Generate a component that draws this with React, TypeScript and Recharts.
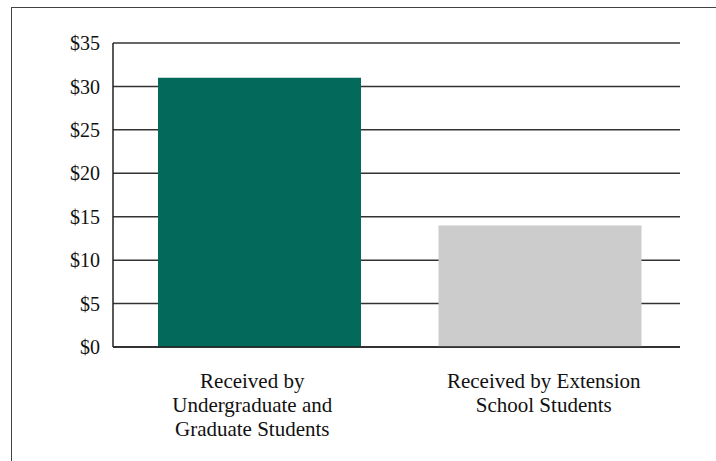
import { Bar, BarChart, CartesianGrid, Cell, XAxis, YAxis } from "recharts"

const categories = ["undergrad", "extension"]
const amounts = [31, 14]
const barColors = ["#02695b", "#cccccc"]
const categoryLabels = [
	["Received by", "Undergraduate and", "Graduate Students"],
	["Received by Extension", "School Students"],
]
const yTicks = [0, 5, 10, 15, 20, 25, 30, 35]

const chartData = categories.map((key, i) => ({
	key,
	amount: amounts[i],
	color: barColors[i],
}))

const FONT = "Liberation Serif"
const labelNudge = [-7, 4]

const CategoryTick = ({ x, y, index }: any) => {
	const lines = categoryLabels[index] ?? []
	return (
		<text
			x={x + labelNudge[index]}
			y={y}
			textAnchor='middle'
			style={{ fontFamily: FONT, fontSize: 21 }}
			fill='#111'
		>
			{lines.map((line, i) => (
				<tspan key={line} x={x + labelNudge[index]} y={y + 33 + i * 24}>
					{line}
				</tspan>
			))}
		</text>
	)
}

export default function App() {
	return (
		<div
			style={{
				position: "absolute",
				left: 0,
				top: 0,
				width: 716,
				height: 461,
				background: "#fff",
				overflow: "hidden",
				fontFamily: FONT,
			}}
		>
			<div
				style={{
					position: "absolute",
					left: 11,
					top: 7,
					width: 720,
					height: 470,
					borderLeft: "1.5px solid #444",
					borderTop: "1.5px solid #444",
				}}
			/>
			<BarChart
				width={716}
				height={461}
				data={chartData}
				margin={{ top: 43, right: 36, bottom: 14, left: 53 }}
				style={{ position: "absolute", left: 0, top: 0 }}
			>
				<CartesianGrid
					vertical={false}
					stroke='#333'
					strokeWidth={1.5}
				/>
				<XAxis
					dataKey='key'
					interval={0}
					height={100}
					tickLine={false}
					axisLine={{ stroke: "#222", strokeWidth: 1.5 }}
					tick={<CategoryTick />}
					padding={{ left: 6, right: 0 }}
				/>
				<YAxis
					domain={[0, 35]}
					ticks={yTicks}
					width={60}
					tickLine={false}
					tickSize={0}
					tickMargin={13}
					tickFormatter={(v: number) => `$${v}`}
					axisLine={{ stroke: "#222", strokeWidth: 1.5 }}
					tick={{ fontSize: 20, fill: "#111", style: { fontFamily: FONT } }}
				/>
				<YAxis
					yAxisId='right'
					orientation='right'
					domain={[0, 35]}
					width={0}
					tick={false}
					tickLine={false}
					axisLine={{ stroke: "#222", strokeWidth: 1.5 }}
				/>
				<Bar dataKey='amount' barSize={203} isAnimationActive={false}>
					{chartData.map((d) => (
						<Cell key={d.key} fill={d.color} />
					))}
				</Bar>
			</BarChart>
		</div>
	)
}
